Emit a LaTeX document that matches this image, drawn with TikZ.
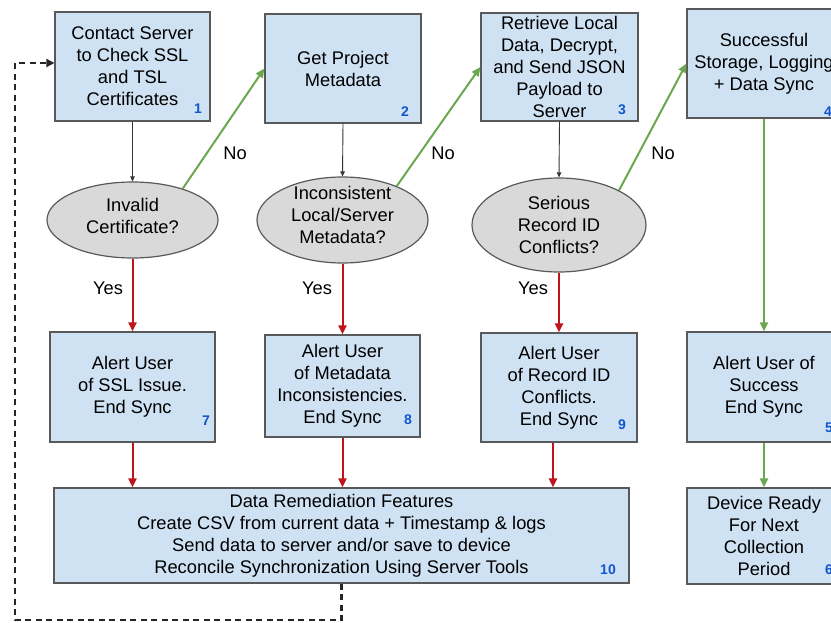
\documentclass[tikz,border=0pt]{standalone}
\usepackage{fontspec}
\setmainfont{Liberation Sans}
\usetikzlibrary{arrows.meta,shapes.geometric}
\definecolor{boxfill}{HTML}{CFE2F3}
\definecolor{ellfill}{HTML}{D9D9D9}
\definecolor{edgegray}{HTML}{595959}
\definecolor{redarr}{HTML}{C0141C}
\definecolor{greenarr}{HTML}{6AA84F}
\definecolor{numblue}{HTML}{1155CC}
\begin{document}
\begin{tikzpicture}[x=1pt,y=-1pt,
  proc/.style={draw=edgegray, line width=1.2pt, fill=boxfill, rectangle, inner sep=0pt, align=center, font=\fontsize{18.3}{22}\selectfont},
  dec/.style={draw=edgegray, line width=1.2pt, fill=ellfill, ellipse, inner sep=0pt},
  dectext/.style={align=center, inner sep=0pt, font=\fontsize{18.3}{22}\selectfont},
  lbl/.style={inner sep=0pt, font=\fontsize{18.3}{22}\selectfont},
  num/.style={inner sep=0pt, text=numblue, font=\bfseries\fontsize{14}{14}\selectfont},
  blackarr/.style={draw=black!80, line width=0.9pt, -{Triangle[length=5pt,width=4.5pt]}},
  redflow/.style={draw=redarr, line width=2pt, -{Triangle[length=9pt,width=8pt]}},
  greenflow/.style={draw=greenarr, line width=2pt, -{Triangle[length=9pt,width=8pt]}},
  loopline/.style={draw=black!85, line width=2.2pt, dash pattern=on 6pt off 4.5pt, -{Triangle[length=8pt,width=8pt]}}
]
\useasboundingbox (0,0) rectangle (831,623);

% top row
\node[proc, minimum width=155pt, minimum height=109pt] (b1) at (132.5,66.5) {Contact Server\\to Check SSL\\and TSL\\Certificates};
\node[proc, minimum width=156pt, minimum height=109pt] (b2) at (343,68.5) {Get Project\\Metadata};
\node[proc, minimum width=157pt, minimum height=108pt] (b3) at (559.5,67) {Retrieve Local\\Data, Decrypt,\\and Send JSON\\Payload to\\Server};
\node[proc, minimum width=154pt, minimum height=109pt] (b4) at (764,63.5) {Successful\\Storage, Logging\\+ Data Sync};

% decisions
\node[dec, minimum width=171pt, minimum height=76pt] (e1) at (132.5,220) {};
\node[dectext] (t1) at (132.5,216) {Invalid\\Certificate?};
\node[dec, minimum width=171pt, minimum height=86pt] (e2) at (342.5,220) {};
\node[dectext] (t2) at (342.5,215) {Inconsistent\\Local/Server\\Metadata?};
\node[dec, minimum width=174pt, minimum height=94pt] (e3) at (559,225) {};
\node[dectext] (t3) at (559,225) {Serious\\Record ID\\Conflicts?};

% alerts
\node[proc, minimum width=165pt, minimum height=110pt] (b7) at (132.5,387) {Alert User\\of SSL Issue.\\End Sync};
\node[proc, minimum width=155pt, minimum height=102pt] (b8) at (342.5,386) {Alert User\\of Metadata\\Inconsistencies.\\End Sync};
\node[proc, minimum width=156pt, minimum height=109pt] (b9) at (559,387.5) {Alert User\\of Record ID\\Conflicts.\\End Sync};
\node[proc, minimum width=154pt, minimum height=110pt] (b5) at (764,387) {Alert User of\\Success\\End Sync};

% bottom row
\node[proc, minimum width=575pt, minimum height=95pt] (b10) at (341.5,535.5) {Data Remediation Features\\Create CSV from current data + Timestamp \& logs\\Send data to server and/or save to device\\Reconcile Synchronization Using Server Tools};
\node[proc, minimum width=154pt, minimum height=96pt] (b6) at (764,536) {Device Ready\\For Next\\Collection\\Period};

% numbers
\node[num] (n1) at (198,109) {1};
\node[num] (n2) at (405,112) {2};
\node[num] (n3) at (622,110) {3};
\node[num] (n4) at (828,112) {4};
\node[num] (n7) at (206,421) {7};
\node[num] (n8) at (408,420) {8};
\node[num] (n9) at (622,425) {9};
\node[num] (n5) at (829,428) {5};
\node[num] (n10) at (608,570) {10};
\node[num] (n6) at (829,570) {6};

% black arrows
\draw[blackarr] (b1.south) -- (e1.north);
\draw[blackarr] (b2.south) -- (e2.north);
\draw[blackarr] (b3.south) -- (e3.north);

% green "No" arrows
\draw[greenflow] (e1.32) -- (b2.west);
\draw[greenflow] (e2.32) -- (b3.west);
\draw[greenflow] (e3.30) -- (b4.west);
\draw[greenflow] (b4.south) -- (b5.north);
\draw[greenflow] (b5.south) -- (b6.north);
\node[lbl] (no1) at (235,153) {No};
\node[lbl] (no2) at (443,153) {No};
\node[lbl] (no3) at (663,153) {No};

% red "Yes" arrows
\draw[redflow] (e1.south) -- (b7.north);
\draw[redflow] (e2.south) -- (b8.north);
\draw[redflow] (e3.south) -- (b9.north);
\node[lbl] (yes1) at (108,288) {Yes};
\node[lbl] (yes2) at (317,288) {Yes};
\node[lbl] (yes3) at (533,288) {Yes};

\draw[redflow] (b7.south) -- (b7.south |- b10.north);
\draw[redflow] (b8.south) -- (b8.south |- b10.north);
\draw[redflow] ([xshift=-6pt]b9.south) -- ([xshift=-6pt]b9.south |- b10.north);

% dashed loop back
\coordinate (dl) at (15,620);
\draw[loopline] (b10.south) |- (dl) |- ([yshift=3.5pt]b1.west);
\end{tikzpicture}
\end{document}
